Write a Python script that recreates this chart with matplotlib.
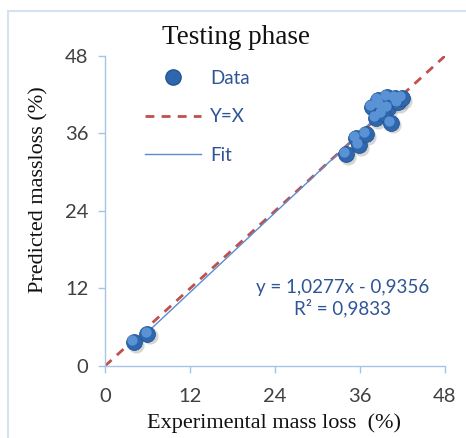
import numpy as np
import matplotlib
matplotlib.use("Agg")
from matplotlib import pyplot as plt
from matplotlib.lines import Line2D
from matplotlib.patches import Rectangle
import matplotlib.transforms as mtransforms

# experimental vs predicted mass loss (testing phase)
exp_loss = [4.1, 6.0, 34.0, 35.9, 35.4, 36.8, 38.2, 40.4, 37.7, 38.5,
            39.8, 38.8, 39.9, 41.3, 41.9, 40.9, 39.1]
pred_loss = [3.7, 5.0, 32.8, 34.2, 35.35, 35.9, 38.4, 37.7, 40.1, 41.2,
             41.65, 40.4, 40.0, 40.8, 41.5, 41.45, 39.1]
slope, intercept = 1.0277, -0.9356
r2 = 0.9833
ticks = [0, 12, 24, 36, 48]

fig = plt.figure(figsize=(4.66, 4.38), dpi=100)
ax = fig.add_axes([0.2253, 0.1644, 0.7296, 0.7078])

# outer chart border
fig.patches.append(Rectangle((8 / 466, -0.05), 1.0, 1 - 11 / 438 + 0.05,
                             transform=fig.transFigure, fill=False,
                             edgecolor="#D5E2F4", linewidth=1.5))

xs = np.array([0, 48])
ax.plot(xs, xs, color="#C0504D", linewidth=2.0, dashes=(3.2, 2.6), zorder=2)

fx = np.array([min(exp_loss), max(exp_loss)])
ax.plot(fx, slope * fx + intercept, color="#5B8BD0", linewidth=1.0, zorder=2)

# sphere-ish markers: shadow, body, highlight
shadow = ax.transData + mtransforms.ScaledTranslation(1.5 / 72, -2 / 72, fig.dpi_scale_trans)
ax.scatter(exp_loss, pred_loss, s=135, color="#888888", alpha=0.35,
           linewidths=0, transform=shadow, zorder=3)
ax.scatter(exp_loss, pred_loss, s=130, color="#2F67AE", edgecolors="#24558F",
           linewidths=0.6, zorder=4)
hl = ax.transData + mtransforms.ScaledTranslation(-1.3 / 72, 1.3 / 72, fig.dpi_scale_trans)
ax.scatter(exp_loss, pred_loss, s=55, color="#5A92D6", linewidths=0,
           transform=hl, zorder=5)

ax.set_xlim(0, 48)
ax.set_ylim(0, 48)
ax.set_xticks(ticks)
ax.set_yticks(ticks)
for sp in ["top", "right"]:
    ax.spines[sp].set_visible(False)
for sp in ["left", "bottom"]:
    ax.spines[sp].set_color("#A7C3E8")
    ax.spines[sp].set_linewidth(1.0)
ax.tick_params(axis="both", direction="out", length=5, width=1.0, color="#A7C3E8",
               labelcolor="#404040", labelsize=14.5)
ax.tick_params(axis="y", pad=7)
ax.tick_params(axis="x", pad=11)
for lab in ax.get_xticklabels() + ax.get_yticklabels():
    lab.set_family("Lato")

fig.text(236 / 466, 1 - 38 / 438, "Testing phase", family="Liberation Serif",
         fontsize=19.5, ha="center", va="center", color="#111111")
fig.text(274 / 466, 1 - 423 / 438, "Experimental mass loss  (%)", family="Liberation Serif",
         fontsize=16, ha="center", va="center", color="#111111")
fig.text(39 / 466, 1 - 190 / 438, "Predicted massloss (%)", family="Liberation Serif",
         fontsize=16, ha="center", va="center", rotation=90, color="#111111")

ax.text(342.5 / 466, 1 - 287 / 438, "y = 1,0277x - 0,9356", transform=fig.transFigure,
        family="Lato", fontsize=13.5, color="#2F5597", ha="center", va="center")
ax.text(342.5 / 466, 1 - 308 / 438, "R\u00b2 = 0,9833", transform=fig.transFigure,
        family="Lato", fontsize=13.5, color="#2F5597", ha="center", va="center")

handles = [
    Line2D([], [], linestyle="none", marker="o", markersize=11,
           markerfacecolor="#2F67AE", markeredgecolor="#24558F"),
    Line2D([], [], color="#C0504D", linewidth=2.0, dashes=(3.2, 2.6)),
    Line2D([], [], color="#5B8BD0", linewidth=1.0),
]
leg = ax.legend(handles, ["Data", "Y=X", "Fit"], loc="upper left",
                bbox_to_anchor=(0.118, 0.955), frameon=False, borderpad=0,
                borderaxespad=0, handlelength=3.0, handletextpad=0.45,
                labelspacing=1.15, prop={"family": "Lato", "size": 13.5},
                labelcolor="#2F5597")

fig.savefig("out.png", dpi=100)
